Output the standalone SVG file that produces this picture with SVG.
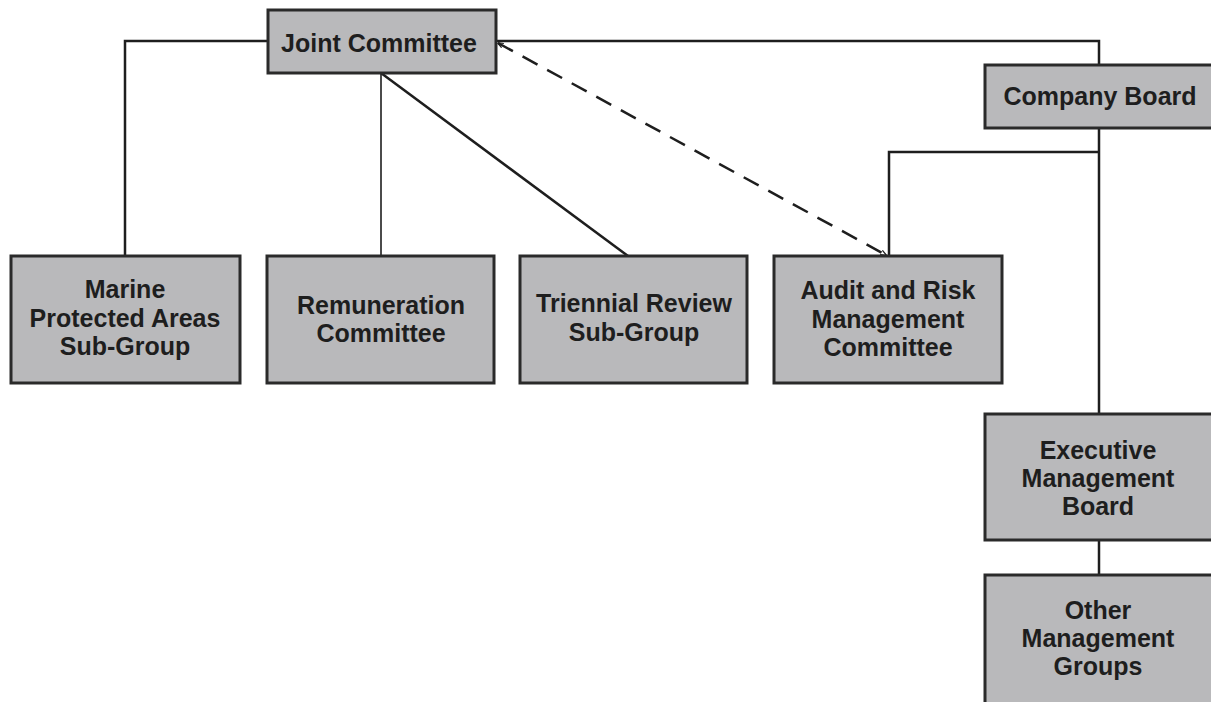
<svg xmlns="http://www.w3.org/2000/svg" width="1211" height="702" viewBox="0 0 1211 702">
  <style>
    .box { fill: #b9b9bb; stroke: #2a2a2a; stroke-width: 3; }
    .lbl { font-family: "Liberation Sans", Arial, sans-serif; font-weight: bold; font-size: 25px; fill: #1e1e1e; text-anchor: middle; }
    .ln { fill: none; stroke: #1e1e1e; stroke-width: 2.5; }
    .thin { fill: none; stroke: #1e1e1e; stroke-width: 1.6; }
    .dash { fill: none; stroke: #1e1e1e; stroke-width: 2.5; stroke-dasharray: 17 11; }
  </style>
  <defs>
    <marker id="tip" viewBox="0 0 10 10" refX="9" refY="5" markerWidth="6" markerHeight="6" orient="auto-start-reverse" markerUnits="userSpaceOnUse">
      <path d="M0,1 L10,5 L0,9" fill="none" stroke="#1e1e1e" stroke-width="2"/>
    </marker>
  </defs>
  <rect width="1211" height="702" fill="#ffffff"/>

  <g id="connectors">
    <!-- Joint Committee to Marine Protected Areas -->
    <polyline class="ln" points="268,41 125,41 125,256"/>
    <!-- Joint Committee to Remuneration -->
    <line class="thin" x1="381" y1="73" x2="381" y2="256"/>
    <!-- Joint Committee to Triennial Review -->
    <line class="ln" x1="381" y1="73" x2="628" y2="256"/>
    <!-- Company Board to Joint Committee -->
    <polyline class="ln" points="1099,65 1099,41 497,41"/>
    <!-- Company Board down to Executive Management Board -->
    <line class="ln" x1="1099" y1="128" x2="1099" y2="414"/>
    <!-- Company Board to Audit and Risk -->
    <polyline class="ln" points="1099,152 889,152 889,256"/>
    <!-- Dashed link Joint Committee / Audit and Risk -->
    <line class="dash" x1="498" y1="43" x2="886" y2="255" marker-start="url(#tip)" marker-end="url(#tip)"/>
    <!-- Executive to Other Management Groups -->
    <line class="ln" x1="1099" y1="540" x2="1099" y2="575"/>
  </g>

  <g id="joint-committee">
    <rect class="box" x="268" y="10" width="228" height="63"/>
    <text class="lbl" x="379" y="52">Joint Committee</text>
  </g>

  <g id="company-board">
    <rect class="box" x="985" y="65" width="230" height="63"/>
    <text class="lbl" x="1100" y="105">Company Board</text>
  </g>

  <g id="marine-protected-areas">
    <rect class="box" x="11" y="256" width="229" height="127"/>
    <text class="lbl" x="125" y="298">Marine</text>
    <text class="lbl" x="125" y="327">Protected Areas</text>
    <text class="lbl" x="125" y="355">Sub-Group</text>
  </g>

  <g id="remuneration">
    <rect class="box" x="267" y="256" width="227" height="127"/>
    <text class="lbl" x="381" y="314">Remuneration</text>
    <text class="lbl" x="381" y="342">Committee</text>
  </g>

  <g id="triennial-review">
    <rect class="box" x="520" y="256" width="227" height="127"/>
    <text class="lbl" x="634" y="312">Triennial Review</text>
    <text class="lbl" x="634" y="341">Sub-Group</text>
  </g>

  <g id="audit-risk">
    <rect class="box" x="774" y="256" width="228" height="127"/>
    <text class="lbl" x="888" y="299">Audit and Risk</text>
    <text class="lbl" x="888" y="328">Management</text>
    <text class="lbl" x="888" y="356">Committee</text>
  </g>

  <g id="executive-management-board">
    <rect class="box" x="985" y="414" width="230" height="126"/>
    <text class="lbl" x="1098" y="459">Executive</text>
    <text class="lbl" x="1098" y="487">Management</text>
    <text class="lbl" x="1098" y="515">Board</text>
  </g>

  <g id="other-management-groups">
    <rect class="box" x="985" y="575" width="230" height="135"/>
    <text class="lbl" x="1098" y="619">Other</text>
    <text class="lbl" x="1098" y="647">Management</text>
    <text class="lbl" x="1098" y="675">Groups</text>
  </g>
</svg>
